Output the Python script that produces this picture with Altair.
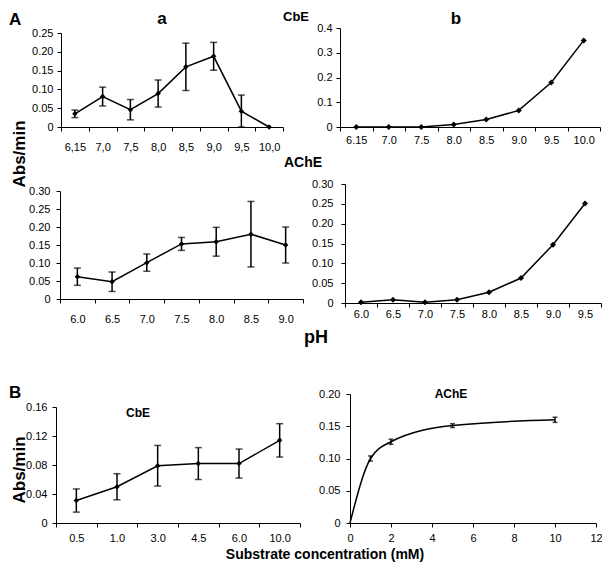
import altair as alt
import pandas as pd

# ---------------- data ----------------
# A-a : CbE activity vs pH (with SD)
ph_cbe_a = ["6,15", "7,0", "7,5", "8,0", "8,5", "9,0", "9,5", "10,0"]
cbe_a = [0.035, 0.081, 0.046, 0.089, 0.160, 0.188, 0.042, 0.0]
cbe_a_err = [0.010, 0.025, 0.027, 0.036, 0.063, 0.037, 0.043, 0.0]

# A-b : CbE spontaneous hydrolysis vs pH
ph_cbe_b = ["6.15", "7.0", "7.5", "8.0", "8.5", "9.0", "9.5", "10.0"]
cbe_b = [0.0, 0.0, 0.0, 0.010, 0.030, 0.067, 0.180, 0.350]

# A-a : AChE activity vs pH (with SD)
ph_ache_a = ["6.0", "6.5", "7.0", "7.5", "8.0", "8.5", "9.0"]
ache_a = [0.062, 0.048, 0.101, 0.153, 0.159, 0.180, 0.150]
ache_a_err = [0.024, 0.027, 0.024, 0.018, 0.040, 0.091, 0.050]

# A-b : AChE spontaneous hydrolysis vs pH
ph_ache_b = ["6.0", "6.5", "7.0", "7.5", "8.0", "8.5", "9.0", "9.5"]
ache_b = [0.002, 0.008, 0.002, 0.008, 0.027, 0.063, 0.147, 0.251]

# B : CbE vs substrate concentration
subs_cbe = ["0.5", "1.0", "3.0", "4.5", "6.0", "10.0"]
cbe_sub = [0.031, 0.050, 0.079, 0.082, 0.082, 0.114]
cbe_sub_err = [0.016, 0.018, 0.028, 0.022, 0.020, 0.023]

# B : AChE vs substrate concentration (mM)
subs_ache = [0, 1, 2, 5, 10]
ache_sub = [0.0, 0.100, 0.126, 0.151, 0.160]
ache_sub_err = [0.0, 0.004, 0.004, 0.003, 0.004]

FONT = "Liberation Sans"
W1, W2 = 247, 264          # column widths
H1, H2, H3 = 99, 136, 180  # row heights


def ylab(fmt):
    return f"datum.value == 0 ? '0' : format(datum.value, '{fmt}')"


def label(text, x, y, size, angle=0, align="center"):
    kw = dict(font=FONT, fontWeight="bold", fontSize=size, align=align,
              baseline="alphabetic", color="black")
    if angle:
        kw["angle"] = angle
    return alt.Chart(pd.DataFrame({"t": [text]})).mark_text(**kw).encode(
        x=alt.value(x), y=alt.value(y), text="t:N")


def panel(xdata, vals, errs, width, height, xscale, xaxis, ymax, yvals, fmt,
          yrange, yoff=0, ypad=4, marks=True, msize=30, interp="linear",
          cap=7, xtype="N", texts=()):
    df = pd.DataFrame({"x": xdata, "y": vals})
    ysc = alt.Scale(domain=[0, ymax], nice=False, zero=True, range=yrange)
    yax = alt.Axis(title=None, values=yvals, labelExpr=ylab(fmt),
                   labelOverlap=False, offset=yoff, labelPadding=ypad)
    xkw = dict(scale=xscale, axis=xaxis)
    if xtype == "N":
        xkw["sort"] = list(xdata)
    xenc = alt.X(f"x:{xtype}", **xkw)
    base = alt.Chart(df)
    layers = [
        base.mark_line(color="black", strokeWidth=1.5,
                       interpolate=interp).encode(
            x=xenc, y=alt.Y("y:Q", scale=ysc, axis=yax)),
    ]
    if marks:
        layers.append(
            base.mark_point(shape="diamond", filled=True, color="black",
                            size=msize, opacity=1).encode(
                x=xenc, y=alt.Y("y:Q", scale=ysc, axis=yax)))
    if errs:
        e = pd.DataFrame({"x": xdata,
                          "lo": [max(v - s, 0) for v, s in zip(vals, errs)],
                          "hi": [v + s for v, s in zip(vals, errs)],
                          "s": errs})
        e = e[e["s"] > 0]
        eb = alt.Chart(e)
        ylo = alt.Y("lo:Q", scale=ysc, axis=yax)
        yhi = alt.Y("hi:Q", scale=ysc, axis=yax)
        layers += [
            eb.mark_rule(color="black", strokeWidth=1.5).encode(
                x=xenc, y=ylo, y2="hi:Q"),
            eb.mark_tick(color="black", thickness=1.5, size=cap,
                         orient="horizontal").encode(x=xenc, y=ylo),
            eb.mark_tick(color="black", thickness=1.5, size=cap,
                         orient="horizontal").encode(x=xenc, y=yhi),
        ]
    layers += list(texts)
    return alt.layer(*layers).properties(width=width, height=height)


def band(rng):
    return alt.Scale(type="band", paddingInner=0, paddingOuter=0, range=rng)


def bandaxis(pad, off=0):
    return alt.Axis(title=None, labelAngle=0, tickBand="extent",
                    labelPadding=pad, offset=off, labelOverlap=False,
                    labelFlush=False)


# ---- row 1 ----
aa = panel(ph_cbe_a, cbe_a, cbe_a_err, W1, H1, band([5, 227]), bandaxis(10),
           0.25, [0, 0.05, 0.10, 0.15, 0.20, 0.25], ".2f", [99, 5],
           yoff=-5, ypad=4,
           texts=[label("A", -47, -3, 17, align="left"),
                  label("a", 106, -4, 17),
                  label("CbE", 240, -7, 13),
                  label("Abs/min", -31, 126, 17, angle=270)])
ab = panel(ph_cbe_b, cbe_b, None, W2, H1, band([2, 262]), bandaxis(3),
           0.4, [0, 0.1, 0.2, 0.3, 0.4], ".1f", [99, 0],
           yoff=-2, ypad=4, msize=36,
           texts=[label("b", 118, -4, 17)])

# ---- row 2 ----
ac = panel(ph_ache_a, ache_a, ache_a_err, W1, H2, band([4, 247]),
           bandaxis(10, -4), 0.30, [0, 0.05, 0.10, 0.15, 0.20, 0.25, 0.30],
           ".2f", [132, 24], yoff=-4, ypad=6,
           texts=[label("AChE", 247, 0, 14),
                  label("pH", 260, 176, 18)])
ad = panel(ph_ache_b, ache_b, None, W2, H2, band([7, 263]), bandaxis(1),
           0.30, [0, 0.05, 0.10, 0.15, 0.20, 0.25, 0.30], ".2f", [136, 17],
           yoff=-7, ypad=8, msize=36)

# ---- row 3 ----
ba = panel(subs_cbe, cbe_sub, cbe_sub_err, W1, H3, band([0, 244]),
           bandaxis(5), 0.16, [0, 0.04, 0.08, 0.12, 0.16], ".2f", [180, 64],
           ypad=5,
           texts=[label("B", -47, 55, 17, align="left"),
                  label("Abs/min", -31, 127, 17, angle=270),
                  label("CbE", 82, 74, 12),
                  label("Substrate concentration (mM)", 269, 216, 14)])
bb = panel(subs_ache, ache_sub, ache_sub_err, W2, H3,
           alt.Scale(domain=[0, 12], nice=False, range=[12, 258]),
           alt.Axis(title=None, values=list(range(0, 13, 2)), format="d",
                    labelPadding=5, labelFlush=False),
           0.20, [0, 0.05, 0.10, 0.15, 0.20], ".2f", [180, 51],
           yoff=-12, ypad=6, marks=False, interp="monotone", cap=5,
           xtype="Q",
           texts=[label("AChE", 113, 55, 12)])

chart = alt.concat(
    aa, ab, ac, ad, ba, bb, columns=2, bounds="flush",
    spacing={"row": 40, "column": 35},
).properties(
    autosize=alt.AutoSizeParams(type="none"),
    padding={"left": 48, "top": 20, "right": 546, "bottom": 535},
    background="white",
).configure_view(stroke=None).configure_axis(
    grid=False, domainColor="black", domainWidth=1, tickColor="black",
    tickWidth=1, tickSize=4, labelColor="black", labelFont=FONT,
    labelFontSize=11, labelPadding=4,
)

chart.save("out.html", embed_options={"renderer": "svg", "actions": False})
